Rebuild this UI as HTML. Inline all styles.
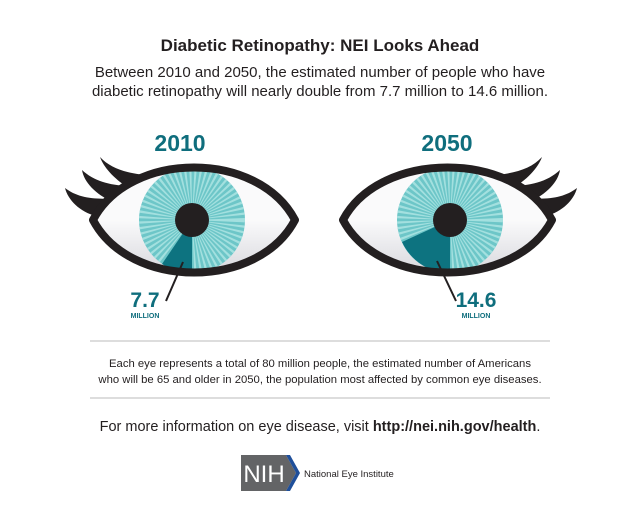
<!DOCTYPE html>
<html><head><meta charset="utf-8"><style>
body{margin:0;background:#fff;}
svg{display:block;font-family:"Liberation Sans",sans-serif;}
</style></head><body>
<svg width="640" height="521" viewBox="0 0 640 521">
<defs>
<linearGradient id="wg" x1="0" y1="0" x2="0" y2="1"><stop offset="0.5" stop-color="#fafafb"/><stop offset="1" stop-color="#d9d9de"/></linearGradient>
<clipPath id="c1"><path d="M93,220 C130,150 258,150 295,220 C258,290 130,290 93,220Z"/></clipPath>
<clipPath id="c2"><path d="M343,220 C380,150 515,150 552,220 C515,290 380,290 343,220Z"/></clipPath>
<g id="lashes" fill="#231f20">
<path d="M96,216 C80,212 68,200 65,188 C78,198 95,200 117,198 Z"/>
<path d="M113,202 C95,194 84,182 82,170 C95,182 112,186 134,186 Z"/>
<path d="M132,190 C115,180 104,168 100,157 C112,170 130,174 155,176 Z"/>
</g>
</defs>
<text x="320" y="51" text-anchor="middle" font-size="17" font-weight="bold" fill="#231f20">Diabetic Retinopathy: NEI Looks Ahead</text>
<text x="320" y="77" text-anchor="middle" font-size="15" fill="#231f20">Between 2010 and 2050, the estimated number of people who have</text>
<text x="320" y="96" text-anchor="middle" font-size="15" fill="#231f20">diabetic retinopathy will nearly double from 7.7 million to 14.6 million.</text>
<text x="180" y="151" text-anchor="middle" font-size="23" font-weight="bold" fill="#0f6e7d">2010</text>
<text x="447" y="151" text-anchor="middle" font-size="23" font-weight="bold" fill="#0f6e7d">2050</text>

<use href="#lashes"/>
<path d="M93,220 C130,150 258,150 295,220 C258,290 130,290 93,220Z" fill="url(#wg)"/>
<g clip-path="url(#c1)">
<circle cx="192" cy="220" r="53" fill="#6dc6c8"/>
<circle cx="192" cy="220" r="26.5" fill="none" stroke="#a3e0df" stroke-width="53" stroke-dasharray="1.2 1.6"/>
<path d="M192,220 L192,273 A53,53 0 0 1 162,264 Z" fill="#0d7380"/>
</g>
<circle cx="192" cy="220" r="17" fill="#231f20"/>
<path d="M93,220 C130,150 258,150 295,220 C258,290 130,290 93,220Z" fill="none" stroke="#231f20" stroke-width="8" stroke-linejoin="round"/>
<line x1="183" y1="262" x2="166" y2="301" stroke="#231f20" stroke-width="2"/>
<text x="145" y="307" text-anchor="middle" font-size="21" font-weight="bold" fill="#0f6e7d">7.7</text>
<text x="145" y="318" text-anchor="middle" font-size="7" font-weight="bold" fill="#0f6e7d">MILLION</text>

<use href="#lashes" transform="translate(642,0) scale(-1,1)"/>
<path d="M343,220 C380,150 515,150 552,220 C515,290 380,290 343,220Z" fill="url(#wg)"/>
<g clip-path="url(#c2)">
<circle cx="450" cy="220" r="53" fill="#6dc6c8"/>
<circle cx="450" cy="220" r="26.5" fill="none" stroke="#a3e0df" stroke-width="53" stroke-dasharray="1.2 1.6"/>
<path d="M450,220 L450,273 A53,53 0 0 1 402,242 Z" fill="#0d7380"/>
</g>
<circle cx="450" cy="220" r="17" fill="#231f20"/>
<path d="M343,220 C380,150 515,150 552,220 C515,290 380,290 343,220Z" fill="none" stroke="#231f20" stroke-width="8" stroke-linejoin="round"/>
<line x1="437" y1="261" x2="456" y2="301" stroke="#231f20" stroke-width="2"/>
<text x="476" y="307" text-anchor="middle" font-size="21" font-weight="bold" fill="#0f6e7d">14.6</text>
<text x="476" y="318" text-anchor="middle" font-size="7" font-weight="bold" fill="#0f6e7d">MILLION</text>

<line x1="90" y1="341" x2="550" y2="341" stroke="#bbb" stroke-width="1"/>
<text x="320" y="367" text-anchor="middle" font-size="11.3" fill="#231f20">Each eye represents a total of 80 million people, the estimated number of Americans</text>
<text x="320" y="383" text-anchor="middle" font-size="11.3" fill="#231f20">who will be 65 and older in 2050, the population most affected by common eye diseases.</text>
<line x1="90" y1="398" x2="550" y2="398" stroke="#bbb" stroke-width="1"/>
<text x="320" y="431" text-anchor="middle" font-size="14.5" fill="#231f20">For more information on eye disease, visit <tspan font-weight="bold">http://nei.nih.gov/health</tspan>.</text>

<path d="M241,455 L286,455 L296,473 L286,491 L241,491Z" fill="#636466"/>
<path d="M286,455 L290,455 L300,473 L290,491 L286,491 L296,473Z" fill="#1f4f9a"/>
<text x="264" y="482" text-anchor="middle" font-size="24" fill="#fff">NIH</text>
<text x="304" y="477" font-size="9.5" fill="#231f20">National Eye Institute</text>
</svg>
</body></html>
